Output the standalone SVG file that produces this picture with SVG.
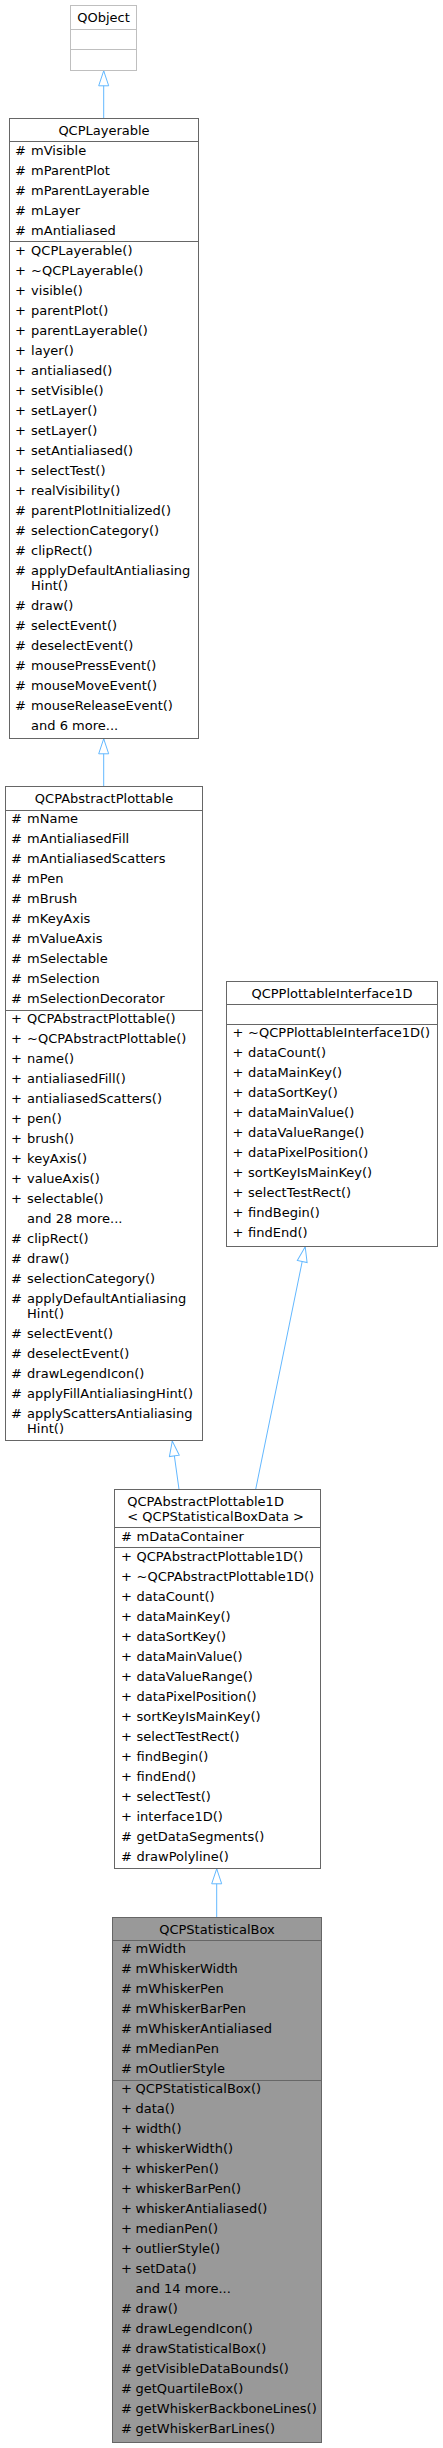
<svg xmlns="http://www.w3.org/2000/svg" width="443" height="2448" viewBox="0 0 443 2448">
<style>
text{font-family:"DejaVu Sans","Liberation Sans",sans-serif;font-size:13px;fill:#000}
.hd{text-anchor:middle}
.box{fill:#fff;stroke:#666;stroke-width:1}
.ext{fill:#fff;stroke:#bfbfbf;stroke-width:1}
.cur{fill:#999;stroke:#666;stroke-width:1}
.dv{stroke:#666;stroke-width:1}
.dvx{stroke:#bfbfbf;stroke-width:1}
.edge{stroke:#63b8ff;stroke-width:1;fill:none;marker-end:url(#tri)}
</style>
<defs>
<marker id="tri" markerUnits="userSpaceOnUse" viewBox="-1 -1 17 12" refX="15" refY="5" markerWidth="17" markerHeight="12" orient="auto">
<path d="M0,0 L15,5 L0,10 Z" fill="#fff" stroke="#63b8ff" stroke-width="1"/>
</marker>
</defs>
<g id="connectors">
<line class="edge" x1="103.7" y1="118.3" x2="103.7" y2="70.8"/>
<line class="edge" x1="103.7" y1="786.7" x2="103.7" y2="738.8"/>
<line class="edge" x1="179" y1="1489.3" x2="172.3" y2="1441"/>
<line class="edge" x1="255.7" y1="1489.3" x2="305.2" y2="1246.8"/>
<line class="edge" x1="216.7" y1="1917.3" x2="216.7" y2="1868.8"/>
</g>
<g id="QObject">
<rect class="ext" x="70.5" y="5.5" width="66" height="65"/>
<line class="dvx" x1="70.5" y1="29.5" x2="136.5" y2="29.5"/>
<line class="dvx" x1="70.5" y1="49.5" x2="136.5" y2="49.5"/>
<text class="hd" x="103.5" y="22">QObject</text>
</g>
<g id="QCPLayerable">
<rect class="box" x="9.5" y="118.5" width="189" height="620"/>
<line class="dv" x1="9.5" y1="141.5" x2="198.5" y2="141.5"/>
<line class="dv" x1="9.5" y1="241.5" x2="198.5" y2="241.5"/>
<text class="hd" x="104" y="135">QCPLayerable</text>
<text y="155"><tspan x="14.9">#</tspan><tspan x="31.1">mVisible</tspan></text>
<text y="175"><tspan x="14.9">#</tspan><tspan x="31.1">mParentPlot</tspan></text>
<text y="195"><tspan x="14.9">#</tspan><tspan x="31.1">mParentLayerable</tspan></text>
<text y="215"><tspan x="14.9">#</tspan><tspan x="31.1">mLayer</tspan></text>
<text y="235"><tspan x="14.9">#</tspan><tspan x="31.1">mAntialiased</tspan></text>
<text y="255"><tspan x="14.9">+</tspan><tspan x="31.1">QCPLayerable()</tspan></text>
<text y="275"><tspan x="14.9">+</tspan><tspan x="31.1">~QCPLayerable()</tspan></text>
<text y="295"><tspan x="14.9">+</tspan><tspan x="31.1">visible()</tspan></text>
<text y="315"><tspan x="14.9">+</tspan><tspan x="31.1">parentPlot()</tspan></text>
<text y="335"><tspan x="14.9">+</tspan><tspan x="31.1">parentLayerable()</tspan></text>
<text y="355"><tspan x="14.9">+</tspan><tspan x="31.1">layer()</tspan></text>
<text y="375"><tspan x="14.9">+</tspan><tspan x="31.1">antialiased()</tspan></text>
<text y="395"><tspan x="14.9">+</tspan><tspan x="31.1">setVisible()</tspan></text>
<text y="415"><tspan x="14.9">+</tspan><tspan x="31.1">setLayer()</tspan></text>
<text y="435"><tspan x="14.9">+</tspan><tspan x="31.1">setLayer()</tspan></text>
<text y="455"><tspan x="14.9">+</tspan><tspan x="31.1">setAntialiased()</tspan></text>
<text y="475"><tspan x="14.9">+</tspan><tspan x="31.1">selectTest()</tspan></text>
<text y="495"><tspan x="14.9">+</tspan><tspan x="31.1">realVisibility()</tspan></text>
<text y="515"><tspan x="14.9">#</tspan><tspan x="31.1">parentPlotInitialized()</tspan></text>
<text y="535"><tspan x="14.9">#</tspan><tspan x="31.1">selectionCategory()</tspan></text>
<text y="555"><tspan x="14.9">#</tspan><tspan x="31.1">clipRect()</tspan></text>
<text y="575"><tspan x="14.9">#</tspan><tspan x="31.1">applyDefaultAntialiasing</tspan></text>
<text x="31.1" y="590">Hint()</text>
<text y="610"><tspan x="14.9">#</tspan><tspan x="31.1">draw()</tspan></text>
<text y="630"><tspan x="14.9">#</tspan><tspan x="31.1">selectEvent()</tspan></text>
<text y="650"><tspan x="14.9">#</tspan><tspan x="31.1">deselectEvent()</tspan></text>
<text y="670"><tspan x="14.9">#</tspan><tspan x="31.1">mousePressEvent()</tspan></text>
<text y="690"><tspan x="14.9">#</tspan><tspan x="31.1">mouseMoveEvent()</tspan></text>
<text y="710"><tspan x="14.9">#</tspan><tspan x="31.1">mouseReleaseEvent()</tspan></text>
<text x="31.1" y="730">and 6 more...</text>
</g>
<g id="QCPAbstractPlottable">
<rect class="box" x="5.5" y="786.5" width="197" height="654"/>
<line class="dv" x1="5.5" y1="810.5" x2="202.5" y2="810.5"/>
<line class="dv" x1="5.5" y1="1010.5" x2="202.5" y2="1010.5"/>
<text class="hd" x="104" y="803">QCPAbstractPlottable</text>
<text y="823.3"><tspan x="10.9">#</tspan><tspan x="27.1">mName</tspan></text>
<text y="843.3"><tspan x="10.9">#</tspan><tspan x="27.1">mAntialiasedFill</tspan></text>
<text y="863.3"><tspan x="10.9">#</tspan><tspan x="27.1">mAntialiasedScatters</tspan></text>
<text y="883.3"><tspan x="10.9">#</tspan><tspan x="27.1">mPen</tspan></text>
<text y="903.3"><tspan x="10.9">#</tspan><tspan x="27.1">mBrush</tspan></text>
<text y="923.3"><tspan x="10.9">#</tspan><tspan x="27.1">mKeyAxis</tspan></text>
<text y="943.3"><tspan x="10.9">#</tspan><tspan x="27.1">mValueAxis</tspan></text>
<text y="963.3"><tspan x="10.9">#</tspan><tspan x="27.1">mSelectable</tspan></text>
<text y="983.3"><tspan x="10.9">#</tspan><tspan x="27.1">mSelection</tspan></text>
<text y="1003.3"><tspan x="10.9">#</tspan><tspan x="27.1">mSelectionDecorator</tspan></text>
<text y="1023"><tspan x="10.9">+</tspan><tspan x="27.1">QCPAbstractPlottable()</tspan></text>
<text y="1043"><tspan x="10.9">+</tspan><tspan x="27.1">~QCPAbstractPlottable()</tspan></text>
<text y="1063"><tspan x="10.9">+</tspan><tspan x="27.1">name()</tspan></text>
<text y="1083"><tspan x="10.9">+</tspan><tspan x="27.1">antialiasedFill()</tspan></text>
<text y="1103"><tspan x="10.9">+</tspan><tspan x="27.1">antialiasedScatters()</tspan></text>
<text y="1123"><tspan x="10.9">+</tspan><tspan x="27.1">pen()</tspan></text>
<text y="1143"><tspan x="10.9">+</tspan><tspan x="27.1">brush()</tspan></text>
<text y="1163"><tspan x="10.9">+</tspan><tspan x="27.1">keyAxis()</tspan></text>
<text y="1183"><tspan x="10.9">+</tspan><tspan x="27.1">valueAxis()</tspan></text>
<text y="1203"><tspan x="10.9">+</tspan><tspan x="27.1">selectable()</tspan></text>
<text x="27.1" y="1223">and 28 more...</text>
<text y="1243"><tspan x="10.9">#</tspan><tspan x="27.1">clipRect()</tspan></text>
<text y="1263"><tspan x="10.9">#</tspan><tspan x="27.1">draw()</tspan></text>
<text y="1283"><tspan x="10.9">#</tspan><tspan x="27.1">selectionCategory()</tspan></text>
<text y="1303"><tspan x="10.9">#</tspan><tspan x="27.1">applyDefaultAntialiasing</tspan></text>
<text x="27.1" y="1318">Hint()</text>
<text y="1338"><tspan x="10.9">#</tspan><tspan x="27.1">selectEvent()</tspan></text>
<text y="1358"><tspan x="10.9">#</tspan><tspan x="27.1">deselectEvent()</tspan></text>
<text y="1378"><tspan x="10.9">#</tspan><tspan x="27.1">drawLegendIcon()</tspan></text>
<text y="1398"><tspan x="10.9">#</tspan><tspan x="27.1">applyFillAntialiasingHint()</tspan></text>
<text y="1418"><tspan x="10.9">#</tspan><tspan x="27.1">applyScattersAntialiasing</tspan></text>
<text x="27.1" y="1433">Hint()</text>
</g>
<g id="QCPPlottableInterface1D">
<rect class="box" x="226.5" y="981.5" width="211" height="265"/>
<line class="dv" x1="226.5" y1="1004.5" x2="437.5" y2="1004.5"/>
<line class="dv" x1="226.5" y1="1024.5" x2="437.5" y2="1024.5"/>
<text class="hd" x="332" y="998">QCPPlottableInterface1D</text>
<text y="1037.4"><tspan x="232.5">+</tspan><tspan x="248.1">~QCPPlottableInterface1D()</tspan></text>
<text y="1057.4"><tspan x="232.5">+</tspan><tspan x="248.1">dataCount()</tspan></text>
<text y="1077.4"><tspan x="232.5">+</tspan><tspan x="248.1">dataMainKey()</tspan></text>
<text y="1097.4"><tspan x="232.5">+</tspan><tspan x="248.1">dataSortKey()</tspan></text>
<text y="1117.4"><tspan x="232.5">+</tspan><tspan x="248.1">dataMainValue()</tspan></text>
<text y="1137.4"><tspan x="232.5">+</tspan><tspan x="248.1">dataValueRange()</tspan></text>
<text y="1157.4"><tspan x="232.5">+</tspan><tspan x="248.1">dataPixelPosition()</tspan></text>
<text y="1177.4"><tspan x="232.5">+</tspan><tspan x="248.1">sortKeyIsMainKey()</tspan></text>
<text y="1197.4"><tspan x="232.5">+</tspan><tspan x="248.1">selectTestRect()</tspan></text>
<text y="1217.4"><tspan x="232.5">+</tspan><tspan x="248.1">findBegin()</tspan></text>
<text y="1237.4"><tspan x="232.5">+</tspan><tspan x="248.1">findEnd()</tspan></text>
</g>
<g id="QCPAbstractPlottable1D">
<rect class="box" x="114.5" y="1489.5" width="206" height="379"/>
<line class="dv" x1="114.5" y1="1527.5" x2="320.5" y2="1527.5"/>
<line class="dv" x1="114.5" y1="1547.5" x2="320.5" y2="1547.5"/>
<text x="127.3" y="1506.4">QCPAbstractPlottable1D</text>
<text x="127.3" y="1521.4">&lt; QCPStatisticalBoxData &gt;</text>
<text y="1541.4"><tspan x="120.9">#</tspan><tspan x="136.5">mDataContainer</tspan></text>
<text y="1561.4"><tspan x="120.9">+</tspan><tspan x="136.5">QCPAbstractPlottable1D()</tspan></text>
<text y="1581.4"><tspan x="120.9">+</tspan><tspan x="136.5">~QCPAbstractPlottable1D()</tspan></text>
<text y="1601.4"><tspan x="120.9">+</tspan><tspan x="136.5">dataCount()</tspan></text>
<text y="1621.4"><tspan x="120.9">+</tspan><tspan x="136.5">dataMainKey()</tspan></text>
<text y="1641.4"><tspan x="120.9">+</tspan><tspan x="136.5">dataSortKey()</tspan></text>
<text y="1661.4"><tspan x="120.9">+</tspan><tspan x="136.5">dataMainValue()</tspan></text>
<text y="1681.4"><tspan x="120.9">+</tspan><tspan x="136.5">dataValueRange()</tspan></text>
<text y="1701.4"><tspan x="120.9">+</tspan><tspan x="136.5">dataPixelPosition()</tspan></text>
<text y="1721.4"><tspan x="120.9">+</tspan><tspan x="136.5">sortKeyIsMainKey()</tspan></text>
<text y="1741.4"><tspan x="120.9">+</tspan><tspan x="136.5">selectTestRect()</tspan></text>
<text y="1761.4"><tspan x="120.9">+</tspan><tspan x="136.5">findBegin()</tspan></text>
<text y="1781.4"><tspan x="120.9">+</tspan><tspan x="136.5">findEnd()</tspan></text>
<text y="1801.4"><tspan x="120.9">+</tspan><tspan x="136.5">selectTest()</tspan></text>
<text y="1821.4"><tspan x="120.9">+</tspan><tspan x="136.5">interface1D()</tspan></text>
<text y="1841.4"><tspan x="120.9">#</tspan><tspan x="136.5">getDataSegments()</tspan></text>
<text y="1861.4"><tspan x="120.9">#</tspan><tspan x="136.5">drawPolyline()</tspan></text>
</g>
<g id="QCPStatisticalBox">
<rect class="cur" x="112.5" y="1917.5" width="209" height="525"/>
<line class="dv" x1="112.5" y1="1940.5" x2="321.5" y2="1940.5"/>
<line class="dv" x1="112.5" y1="2080.5" x2="321.5" y2="2080.5"/>
<text class="hd" x="217" y="1933.7">QCPStatisticalBox</text>
<text y="1953"><tspan x="120.9">#</tspan><tspan x="135.5">mWidth</tspan></text>
<text y="1973"><tspan x="120.9">#</tspan><tspan x="135.5">mWhiskerWidth</tspan></text>
<text y="1993"><tspan x="120.9">#</tspan><tspan x="135.5">mWhiskerPen</tspan></text>
<text y="2013"><tspan x="120.9">#</tspan><tspan x="135.5">mWhiskerBarPen</tspan></text>
<text y="2033"><tspan x="120.9">#</tspan><tspan x="135.5">mWhiskerAntialiased</tspan></text>
<text y="2053"><tspan x="120.9">#</tspan><tspan x="135.5">mMedianPen</tspan></text>
<text y="2073"><tspan x="120.9">#</tspan><tspan x="135.5">mOutlierStyle</tspan></text>
<text y="2093"><tspan x="120.9">+</tspan><tspan x="135.5">QCPStatisticalBox()</tspan></text>
<text y="2113"><tspan x="120.9">+</tspan><tspan x="135.5">data()</tspan></text>
<text y="2133"><tspan x="120.9">+</tspan><tspan x="135.5">width()</tspan></text>
<text y="2153"><tspan x="120.9">+</tspan><tspan x="135.5">whiskerWidth()</tspan></text>
<text y="2173"><tspan x="120.9">+</tspan><tspan x="135.5">whiskerPen()</tspan></text>
<text y="2193"><tspan x="120.9">+</tspan><tspan x="135.5">whiskerBarPen()</tspan></text>
<text y="2213"><tspan x="120.9">+</tspan><tspan x="135.5">whiskerAntialiased()</tspan></text>
<text y="2233"><tspan x="120.9">+</tspan><tspan x="135.5">medianPen()</tspan></text>
<text y="2253"><tspan x="120.9">+</tspan><tspan x="135.5">outlierStyle()</tspan></text>
<text y="2273"><tspan x="120.9">+</tspan><tspan x="135.5">setData()</tspan></text>
<text x="135.5" y="2293">and 14 more...</text>
<text y="2313"><tspan x="120.9">#</tspan><tspan x="135.5">draw()</tspan></text>
<text y="2333"><tspan x="120.9">#</tspan><tspan x="135.5">drawLegendIcon()</tspan></text>
<text y="2353"><tspan x="120.9">#</tspan><tspan x="135.5">drawStatisticalBox()</tspan></text>
<text y="2373"><tspan x="120.9">#</tspan><tspan x="135.5">getVisibleDataBounds()</tspan></text>
<text y="2393"><tspan x="120.9">#</tspan><tspan x="135.5">getQuartileBox()</tspan></text>
<text y="2413"><tspan x="120.9">#</tspan><tspan x="135.5">getWhiskerBackboneLines()</tspan></text>
<text y="2433"><tspan x="120.9">#</tspan><tspan x="135.5">getWhiskerBarLines()</tspan></text>
</g>
</svg>
